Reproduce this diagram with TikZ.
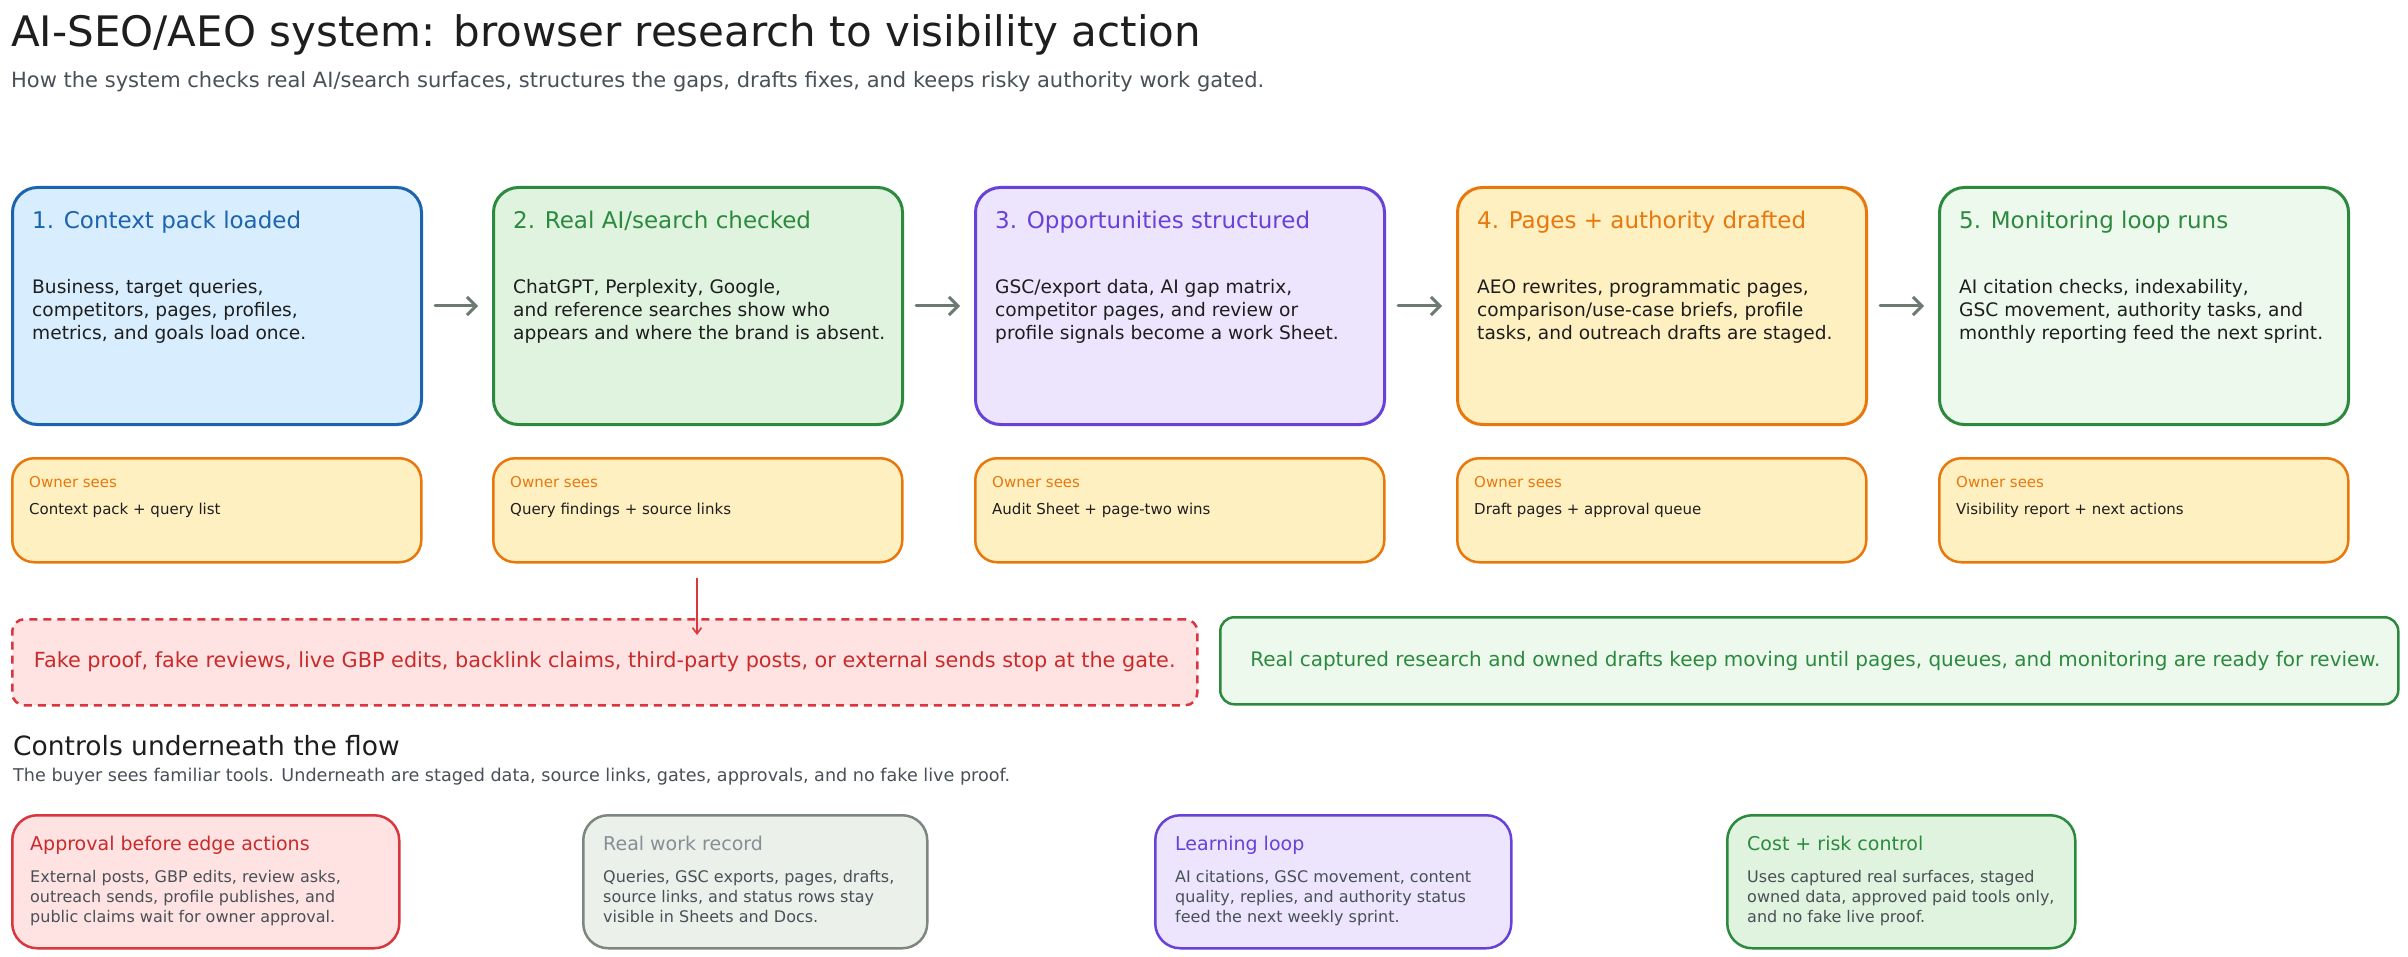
\documentclass[tikz,border=0pt]{standalone}
\usepackage{fontspec}
\setmainfont{DejaVu Sans}
\usetikzlibrary{arrows.meta}
\definecolor{inkc}{HTML}{1E1E1E}
\definecolor{subc}{HTML}{495057}
\definecolor{blueS}{HTML}{1C64B0}
\definecolor{blueF}{HTML}{D8EDFD}
\definecolor{greenS}{HTML}{2B8A3E}
\definecolor{greenF}{HTML}{DFF3DF}
\definecolor{greenL}{HTML}{EEF9EE}
\definecolor{purpS}{HTML}{6741D9}
\definecolor{purpF}{HTML}{ECE5FD}
\definecolor{orS}{HTML}{E8770C}
\definecolor{orF}{HTML}{FFF0C2}
\definecolor{redS}{HTML}{D9363E}
\definecolor{redT}{HTML}{C92A2A}
\definecolor{redF}{HTML}{FFE3E3}
\definecolor{grayS}{HTML}{7D877F}
\definecolor{grayT}{HTML}{868E96}
\definecolor{grayF}{HTML}{EBF0EA}
\definecolor{arrowc}{HTML}{6C7A71}
\tikzset{
  stagebox/.style={draw, line width=3pt, rounded corners=25pt, inner sep=0pt,
    minimum width=409pt, minimum height=237pt, anchor=north west},
  ownerbox/.style={draw=orS, fill=orF, line width=2.5pt, rounded corners=22pt, inner sep=0pt,
    minimum width=409pt, minimum height=104pt, anchor=north west},
  ctrlbox/.style={draw, line width=2.5pt, rounded corners=25pt, inner sep=0pt,
    minimum height=133pt, anchor=north west},
  ttl/.style={anchor=base west, inner sep=0pt, font=\fontsize{23}{27}\selectfont},
  bodytxt/.style={anchor=base west, inner sep=0pt, align=left, text=inkc, font=\fontsize{18.6}{23}\selectfont},
  ownlabel/.style={anchor=base west, inner sep=0pt, text=orS, font=\fontsize{15}{18}\selectfont},
  owntxt/.style={anchor=base west, inner sep=0pt, text=inkc, font=\fontsize{15}{18}\selectfont},
  ctrlttl/.style={anchor=base west, inner sep=0pt, font=\fontsize{19}{23}\selectfont},
  ctrltxt/.style={anchor=base west, inner sep=0pt, align=left, text=subc, font=\fontsize{16}{20}\selectfont},
  flowarrow/.style={draw=arrowc, line width=3pt, line cap=round, -{Straight Barb[length=9pt,width=18pt,line width=3pt]}},
}
\begin{document}
\begin{tikzpicture}[x=1pt,y=-1pt]
\useasboundingbox (0,0) rectangle (2408,957);
\fill[white] (0,0) rectangle (2408,957);

% header
\node[anchor=base west, inner sep=0pt, text=inkc, font=\fontsize{42}{48}\selectfont] (title) at (11,47) {AI-SEO/AEO system: browser research to visibility action};
\node[anchor=base west, inner sep=0pt, text=subc, font=\fontsize{21}{25}\selectfont] (subtitle) at (11,88) {How the system checks real AI/search surfaces, structures the gaps, drafts fixes, and keeps risky authority work gated.};

% stage boxes
\node[stagebox, draw=blueS, fill=blueF] (s1) at (11,186) {};
\node[stagebox, draw=greenS, fill=greenF] (s2) at (492,186) {};
\node[stagebox, draw=purpS, fill=purpF] (s3) at (974,186) {};
\node[stagebox, draw=orS, fill=orF] (s4) at (1456,186) {};
\node[stagebox, draw=greenS, fill=greenL] (s5) at (1938,186) {};

\node[ttl, text=blueS] (s1t) at (32,229) {1. Context pack loaded};
\node[ttl, text=greenS] (s2t) at (513,229) {2. Real AI/search checked};
\node[ttl, text=purpS] (s3t) at (995,229) {3. Opportunities structured};
\node[ttl, text=orS] (s4t) at (1477,229) {4. Pages + authority drafted};
\node[ttl, text=greenS] (s5t) at (1959,229) {5. Monitoring loop runs};

% multi-line nodes: base anchor = last line's baseline
\node[bodytxt] (s1b) at (32,339) {Business, target queries,\\competitors, pages, profiles,\\metrics, and goals load once.};
\node[bodytxt] (s2b) at (513,339) {ChatGPT, Perplexity, Google,\\and reference searches show who\\appears and where the brand is absent.};
\node[bodytxt] (s3b) at (995,339) {GSC/export data, AI gap matrix,\\competitor pages, and review or\\profile signals become a work Sheet.};
\node[bodytxt] (s4b) at (1477,339) {AEO rewrites, programmatic pages,\\comparison/use-case briefs, profile\\tasks, and outreach drafts are staged.};
\node[bodytxt] (s5b) at (1959,339) {AI citation checks, indexability,\\GSC movement, authority tasks, and\\monthly reporting feed the next sprint.};

% flow arrows
\draw[flowarrow] ([xshift=12pt]s1.east) -- ([xshift=-14pt]s2.west);
\draw[flowarrow] ([xshift=12pt]s2.east) -- ([xshift=-14pt]s3.west);
\draw[flowarrow] ([xshift=12pt]s3.east) -- ([xshift=-14pt]s4.west);
\draw[flowarrow] ([xshift=12pt]s4.east) -- ([xshift=-14pt]s5.west);

% owner boxes
\node[ownerbox] (o1) at (11,457) {};
\node[ownerbox] (o2) at (492,457) {};
\node[ownerbox] (o3) at (974,457) {};
\node[ownerbox] (o4) at (1456,457) {};
\node[ownerbox] (o5) at (1938,457) {};

\node[ownlabel] (o1l) at (29,487) {Owner sees};
\node[ownlabel] (o2l) at (510,487) {Owner sees};
\node[ownlabel] (o3l) at (992,487) {Owner sees};
\node[ownlabel] (o4l) at (1474,487) {Owner sees};
\node[ownlabel] (o5l) at (1956,487) {Owner sees};

\node[owntxt] (o1t) at (29,514) {Context pack + query list};
\node[owntxt] (o2t) at (510,514) {Query findings + source links};
\node[owntxt] (o3t) at (992,514) {Audit Sheet + page-two wins};
\node[owntxt] (o4t) at (1474,514) {Draft pages + approval queue};
\node[owntxt] (o5t) at (1956,514) {Visibility report + next actions};

% gate
\node[draw=redS, fill=redF, line width=2.5pt, dashed, dash pattern=on 8pt off 6pt, rounded corners=12pt,
  minimum width=1185pt, minimum height=86pt, anchor=north west, inner sep=0pt] (gate) at (11,618) {};
\node[text=redT, inner sep=0pt, font=\fontsize{20.8}{24}\selectfont] (gatet) at (gate.center) {Fake proof, fake reviews, live GBP edits, backlink claims, third-party posts, or external sends stop at the gate.};
\coordinate (gatein) at (697,578);
\draw[draw=redS, line width=1.6pt, -{Straight Barb[length=6pt,width=9pt,line width=1.6pt]}] (gatein) -- ([yshift=-17pt]gate.north -| gatein);

\node[draw=greenS, fill=greenL, line width=2.5pt, rounded corners=14pt,
  minimum width=1178pt, minimum height=87pt, anchor=north west, inner sep=0pt] (keep) at (1219,616) {};
\node[text=greenS, inner sep=0pt, font=\fontsize{20}{24}\selectfont] (keept) at ([xshift=6pt]keep.center) {Real captured research and owned drafts keep moving until pages, queues, and monitoring are ready for review.};

% controls
\node[anchor=base west, inner sep=0pt, text=inkc, font=\fontsize{26.5}{31}\selectfont] (ctrlh) at (13,755) {Controls underneath the flow};
\node[anchor=base west, inner sep=0pt, text=subc, font=\fontsize{17.6}{21}\selectfont] (ctrls) at (13,781) {The buyer sees familiar tools. Underneath are staged data, source links, gates, approvals, and no fake live proof.};

\node[ctrlbox, draw=redS, fill=redF, minimum width=387pt] (c1) at (11,814) {};
\node[ctrlbox, draw=grayS, fill=grayF, minimum width=344pt] (c2) at (582,814) {};
\node[ctrlbox, draw=purpS, fill=purpF, minimum width=356pt] (c3) at (1154,814) {};
\node[ctrlbox, draw=greenS, fill=greenF, minimum width=348pt] (c4) at (1726,814) {};

\node[ctrlttl, text=redT] (c1t) at (30,850) {Approval before edge actions};
\node[ctrlttl, text=grayT] (c2t) at (603,850) {Real work record};
\node[ctrlttl, text=purpS] (c3t) at (1175,850) {Learning loop};
\node[ctrlttl, text=greenS] (c4t) at (1747,850) {Cost + risk control};

\node[ctrltxt] (c1b) at (30,922) {External posts, GBP edits, review asks,\\outreach sends, profile publishes, and\\public claims wait for owner approval.};
\node[ctrltxt] (c2b) at (603,922) {Queries, GSC exports, pages, drafts,\\source links, and status rows stay\\visible in Sheets and Docs.};
\node[ctrltxt] (c3b) at (1175,922) {AI citations, GSC movement, content\\quality, replies, and authority status\\feed the next weekly sprint.};
\node[ctrltxt] (c4b) at (1747,922) {Uses captured real surfaces, staged\\owned data, approved paid tools only,\\and no fake live proof.};
\end{tikzpicture}
\end{document}
